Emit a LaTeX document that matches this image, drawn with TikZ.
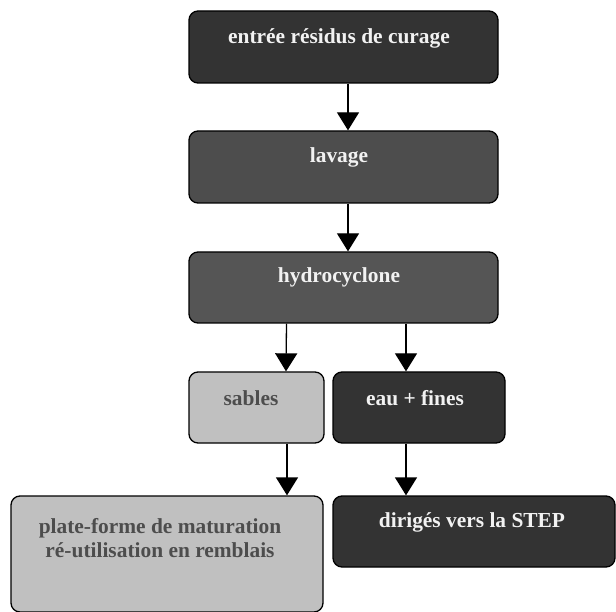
\documentclass[tikz,border=0pt]{standalone}
\usepackage{fontspec}
\setmainfont{Liberation Serif}
\usetikzlibrary{arrows.meta}
\definecolor{dk}{HTML}{333333}
\definecolor{md}{HTML}{4D4D4D}
\definecolor{mh}{HTML}{555555}
\definecolor{lt}{HTML}{C0C0C0}
\definecolor{wt}{HTML}{F2F2F2}
\begin{document}
\begin{tikzpicture}[x=1pt,y=-1pt,
  box/.style={draw=black,line width=1.3pt,rounded corners=9pt,inner sep=0pt},
  txt/.style={font=\fontsize{21.4}{24}\selectfont\bfseries,inner sep=0pt,align=center,anchor=center},
  arr/.style={line width=1.3pt,-{Triangle[width=22pt,length=18pt]}}]
\useasboundingbox (0,0) rectangle (616,612);
\node[box,fill=dk,minimum width=309pt,minimum height=72pt] (b1) at (343.5,47) {};
\node[box,fill=md,minimum width=309pt,minimum height=72pt] (b2) at (343.5,167) {};
\node[box,fill=mh,minimum width=309pt,minimum height=71pt] (b3) at (343.5,287.5) {};
\node[box,fill=lt,minimum width=135pt,minimum height=71pt] (sab) at (256.5,407.5) {};
\node[box,fill=dk,minimum width=172pt,minimum height=71pt] (eau) at (419,407.5) {};
\node[box,fill=lt,minimum width=312pt,minimum height=116pt] (pla) at (167,554) {};
\node[box,fill=dk,minimum width=282pt,minimum height=71pt] (dir) at (474,531.5) {};
\node[txt,text=wt] (t1) at (339,38) {entrée résidus de curage};
\node[txt,text=wt] (t2) at (339,157) {lavage};
\node[txt,text=wt] (t3) at (339,277) {hydrocyclone};
\node[txt,text=md] (t4) at (251,398) {sables};
\node[txt,text=wt] (t5) at (415,398) {eau + fines};
\node[txt,text=md] (t6) at (160,538) {plate-forme de maturation\\ré-utilisation en remblais};
\node[txt,text=wt] (t7) at (472,522) {dirigés vers la STEP};
\draw[arr] ([xshift=4.5pt]b1.south) -- ([xshift=4.5pt]b2.north);
\draw[arr] ([xshift=4.5pt]b2.south) -- ([xshift=4.5pt]b3.north);
\draw[arr] ([xshift=-57pt]b3.south) -- ([xshift=29.5pt]sab.north);
\draw[arr] ([xshift=62.5pt]b3.south) -- ([xshift=-13pt]eau.north);
\draw[arr] ([xshift=30.5pt]sab.south) -- ([xshift=120pt]pla.north);
\draw[arr] ([xshift=-13pt]eau.south) -- ([xshift=-68pt]dir.north);
\end{tikzpicture}
\end{document}
